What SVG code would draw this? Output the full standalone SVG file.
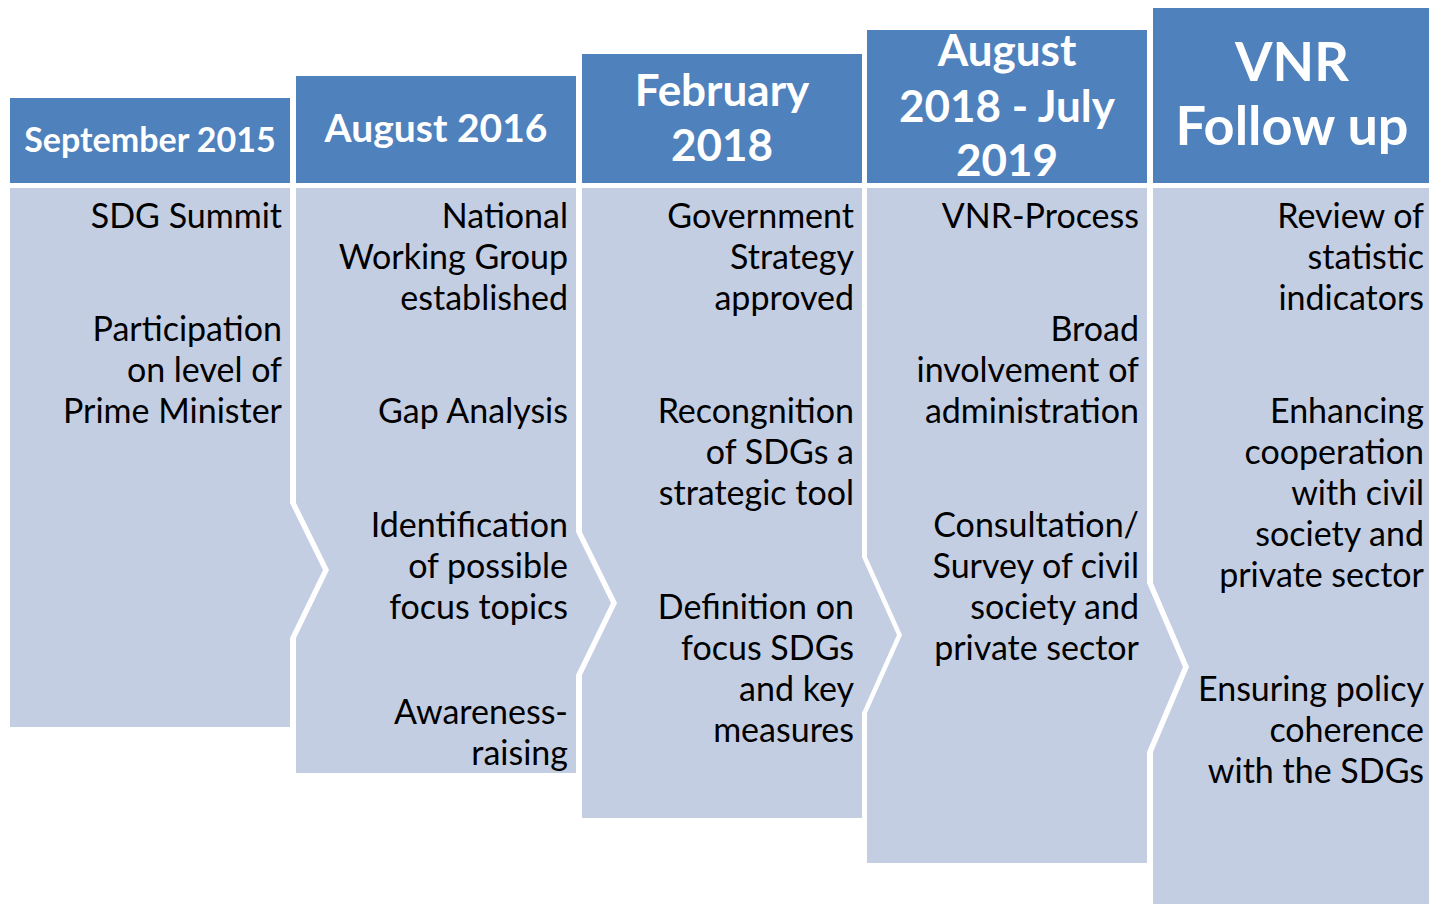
<svg xmlns="http://www.w3.org/2000/svg" width="1429" height="904" viewBox="0 0 1429 904">
<style>
.hdr{fill:#4F81BD}
.body{fill:#C4CEE3}
.ht{font-family:Lato,"Liberation Sans",sans-serif;font-weight:bold;fill:#FFFFFF;text-anchor:middle}
.bt{font-family:Lato,"Liberation Sans",sans-serif;font-size:34px;fill:#000000;text-anchor:end}
</style>
<rect width="1429" height="904" fill="#FFFFFF"/>
<g id="col1">
<rect class="hdr" x="10" y="98" width="280" height="85"/>
<polygon class="body" points="10,188 290,188 290,503 323,570 290,638 290,727 10,727"/>
<text class="ht" x="150" y="152" font-size="34">September 2015</text>
<text class="bt" x="282" y="228">SDG Summit</text>
<text class="bt" x="282" y="341">Participation</text>
<text class="bt" x="282" y="382">on level of</text>
<text class="bt" x="282" y="423">Prime Minister</text>
</g>
<g id="col2">
<rect class="hdr" x="296" y="76" width="280" height="107"/>
<polygon class="body" points="296,188 576,188 576,532 611,603 576,675 576,773 296,773 296,638 329,570 296,503"/>
<text class="ht" x="436" y="142" font-size="39">August 2016</text>
<text class="bt" x="568" y="228">National</text>
<text class="bt" x="568" y="269">Working Group</text>
<text class="bt" x="568" y="310">established</text>
<text class="bt" x="568" y="423">Gap Analysis</text>
<text class="bt" x="568" y="537">Identification</text>
<text class="bt" x="568" y="578">of possible</text>
<text class="bt" x="568" y="619">focus topics</text>
<text class="bt" x="568" y="724">Awareness-</text>
<text class="bt" x="568" y="765">raising</text>
</g>
<g id="col3">
<rect class="hdr" x="582" y="54" width="280" height="129"/>
<polygon class="body" points="582,188 862,188 862,557 897,635 862,713 862,818 582,818 582,675 617,603 582,532"/>
<text class="ht" x="722" y="106" font-size="44">February</text>
<text class="ht" x="722" y="161" font-size="44">2018</text>
<text class="bt" x="854" y="228">Government</text>
<text class="bt" x="854" y="269">Strategy</text>
<text class="bt" x="854" y="310">approved</text>
<text class="bt" x="854" y="423">Recongnition</text>
<text class="bt" x="854" y="464">of SDGs a</text>
<text class="bt" x="854" y="505">strategic tool</text>
<text class="bt" x="854" y="619">Definition on</text>
<text class="bt" x="854" y="660">focus SDGs</text>
<text class="bt" x="854" y="701">and key</text>
<text class="bt" x="854" y="742">measures</text>
</g>
<g id="col4">
<rect class="hdr" x="867" y="30" width="280" height="153"/>
<polygon class="body" points="867,188 1147,188 1147,583 1183,667 1147,752 1147,863 867,863 867,713 902,635 867,557"/>
<text class="ht" x="1007" y="66" font-size="44">August</text>
<text class="ht" x="1007" y="122" font-size="44">2018 - July</text>
<text class="ht" x="1007" y="176" font-size="44">2019</text>
<text class="bt" x="1139" y="228">VNR-Process</text>
<text class="bt" x="1139" y="341">Broad</text>
<text class="bt" x="1139" y="382">involvement of</text>
<text class="bt" x="1139" y="423">administration</text>
<text class="bt" x="1139" y="537">Consultation/</text>
<text class="bt" x="1139" y="578">Survey of civil</text>
<text class="bt" x="1139" y="619">society and</text>
<text class="bt" x="1139" y="660">private sector</text>
</g>
<g id="col5">
<rect class="hdr" x="1153" y="8" width="276" height="175"/>
<polygon class="body" points="1153,188 1429,188 1429,904 1153,904 1153,752 1189,667 1153,583"/>
<text class="ht" x="1292" y="81" font-size="54">VNR</text>
<text class="ht" x="1292" y="145" font-size="54">Follow up</text>
<text class="bt" x="1424" y="228">Review of</text>
<text class="bt" x="1424" y="269">statistic</text>
<text class="bt" x="1424" y="310">indicators</text>
<text class="bt" x="1424" y="423">Enhancing</text>
<text class="bt" x="1424" y="464">cooperation</text>
<text class="bt" x="1424" y="505">with civil</text>
<text class="bt" x="1424" y="546">society and</text>
<text class="bt" x="1424" y="587">private sector</text>
<text class="bt" x="1424" y="701">Ensuring policy</text>
<text class="bt" x="1424" y="742">coherence</text>
<text class="bt" x="1424" y="783">with the SDGs</text>
</g>
<g id="connectors"></g>
</svg>
